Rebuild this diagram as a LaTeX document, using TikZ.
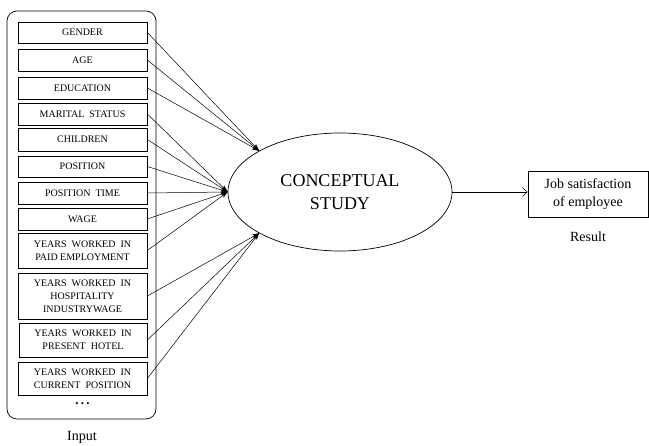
\documentclass[tikz,border=0pt]{standalone}
\usepackage{fontspec}
\setmainfont{Liberation Serif}
\usetikzlibrary{shapes.geometric,arrows.meta}
\begin{document}
\begin{tikzpicture}[x=1pt,y=-1pt,
  inbox/.style={draw,line width=0.7pt,minimum width=129pt,inner sep=0pt,align=center,font=\fontsize{10}{13}\selectfont},
  inarrow/.style={draw,line width=0.5pt,-{Stealth[length=7pt,width=4.5pt]}},
  lbl/.style={font=\fontsize{14}{17}\selectfont}]
\useasboundingbox (0,0) rectangle (649,446);
\draw[line width=0.7pt,rounded corners=10pt] (7,11) rectangle (156,419);
\node[inbox,minimum height=21pt] (b1) at (82.5,32.5) {GENDER};
\node[inbox,minimum height=22pt] (b2) at (82.5,60) {AGE};
\node[inbox,minimum height=22pt] (b3) at (82.5,88) {EDUCATION};
\node[inbox,minimum height=22pt] (b4) at (82.5,114) {MARITAL\ \ STATUS};
\node[inbox,minimum height=23pt] (b5) at (82.5,139.5) {CHILDREN};
\node[inbox,minimum height=21pt] (b6) at (82.5,166.5) {POSITION};
\node[inbox,minimum height=22pt] (b7) at (82.5,193) {POSITION\ \ TIME};
\node[inbox,minimum height=22pt] (b8) at (82.5,219) {WAGE};
\node[inbox,minimum height=35pt] (b9) at (82.5,250.5) {YEARS\ \ WORKED\ \ IN\\PAID EMPLOYMENT};
\node[inbox,minimum height=46pt] (b10) at (82.5,296) {YEARS\ \ WORKED\ \ IN\\HOSPITALITY\\INDUSTRYWAGE};
\node[inbox,minimum height=34pt,minimum width=128pt] (b11) at (83,340) {YEARS\ \ WORKED\ \ IN\\PRESENT\ \ HOTEL};
\node[inbox,minimum height=33pt] (b12) at (82.5,378.5) {YEARS\ \ WORKED\ \ IN\\CURRENT\ \ POSITION};
\node[font=\bfseries\fontsize{13}{14}\selectfont] (dots) at (82.5,404) {.\,.\,.};
\node[lbl] (input) at (82,437) {Input};
\node[ellipse,draw,line width=0.7pt,minimum width=224pt,minimum height=118pt,inner sep=0pt,align=center,font=\fontsize{18}{23}\selectfont] (cs) at (340,192) {CONCEPTUAL\\STUDY};
\node[draw,line width=0.7pt,minimum width=120pt,minimum height=46pt,inner sep=0pt,align=center,font=\fontsize{14}{18}\selectfont] (job) at (588,194) {Job satisfaction\\of employee};
\node[lbl] (res) at (588,237) {Result};
\coordinate (up) at (cs.153);
\coordinate (mid) at (cs.west);
\coordinate (lo) at (cs.207);
\foreach \b in {b1,b2,b3} \draw[inarrow] (\b.east) -- (up);
\foreach \b in {b4,b5,b6,b7,b8,b9} \draw[inarrow] (\b.east) -- (mid);
\foreach \b in {b10,b11,b12} \draw[inarrow] (\b.east) -- (lo);
\draw[line width=0.5pt,-{Straight Barb[length=5pt,width=9pt]}] (cs.east) -- (cs.east -| job.west);
\end{tikzpicture}
\end{document}
